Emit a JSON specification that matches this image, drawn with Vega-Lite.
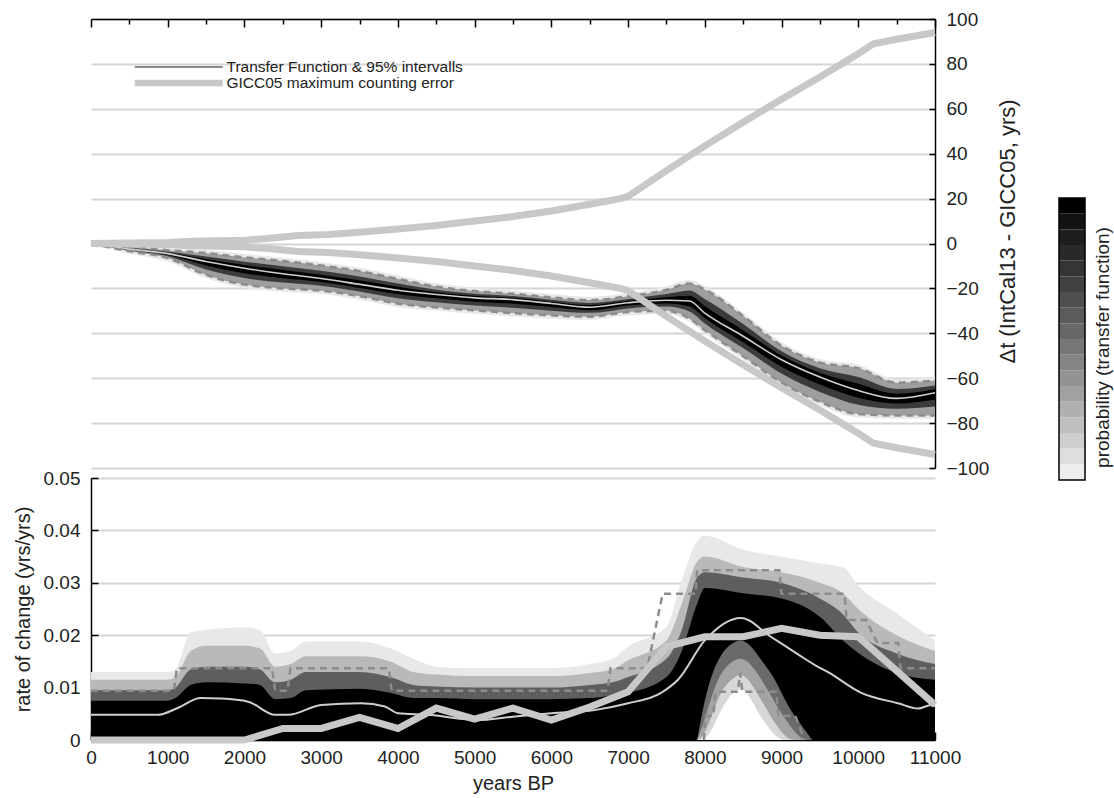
{
"$schema": "https://vega.github.io/schema/vega-lite/v6.json",
"padding": {"left": 13, "top": 10, "right": 4, "bottom": 4},
"background": "white",
"config": {
  "font": "Liberation Sans",
  "view": {"stroke": null},
  "axis": {"labelFont": "Liberation Sans", "titleFont": "Liberation Sans", "labelFontSize": 19, "titleFontSize": 20, "titleFontWeight": "normal", "labelColor": "#222", "titleColor": "#222", "domainColor": "#000", "domainWidth": 1.5, "tickColor": "#000", "tickWidth": 1.5}
},
"datasets": {
  "tf": [
    {"year":0,"mean":0,"hi":0,"lo":0,"chi":0,"clo":0,"mhi":0,"mlo":0,"hhi":0,"hlo":0},
    {"year":500,"mean":-2.5,"hi":-1.5,"lo":-3.5,"chi":-2.2,"clo":-2.8,"mhi":-1.9,"mlo":-3.1,"hhi":-0.5,"hlo":-4.5},
    {"year":1000,"mean":-4.5,"hi":-3,"lo":-6.5,"chi":-4.05,"clo":-5.1,"mhi":-3.6,"mlo":-5.7,"hhi":-1.5,"hlo":-8},
    {"year":1500,"mean":-8,"hi":-4.3,"lo":-14,"chi":-6.9,"clo":-9.8,"mhi":-5.8,"mlo":-11.6,"hhi":-2.8,"hlo":-15.5},
    {"year":2000,"mean":-11,"hi":-6.2,"lo":-18.3,"chi":-9.6,"clo":-13.2,"mhi":-8.1,"mlo":-15.4,"hhi":-4.7,"hlo":-19.8},
    {"year":2500,"mean":-13.5,"hi":-7.8,"lo":-20,"chi":-11.8,"clo":-15.5,"mhi":-10.1,"mlo":-17.4,"hhi":-6.3,"hlo":-21.5},
    {"year":3000,"mean":-15.6,"hi":-9.8,"lo":-21,"chi":-13.9,"clo":-17.2,"mhi":-12.1,"mlo":-18.8,"hhi":-8.3,"hlo":-22.5},
    {"year":3500,"mean":-18.2,"hi":-12.3,"lo":-23.5,"chi":-16.4,"clo":-19.8,"mhi":-14.7,"mlo":-21.4,"hhi":-10.8,"hlo":-25},
    {"year":4000,"mean":-20.8,"hi":-15.8,"lo":-26.8,"chi":-19.3,"clo":-22.6,"mhi":-17.8,"mlo":-24.4,"hhi":-14.3,"hlo":-28.3},
    {"year":4500,"mean":-22.7,"hi":-19.2,"lo":-28.5,"chi":-21.7,"clo":-24.4,"mhi":-20.6,"mlo":-26.2,"hhi":-17.7,"hlo":-30},
    {"year":5000,"mean":-24.2,"hi":-21.2,"lo":-29.8,"chi":-23.3,"clo":-25.9,"mhi":-22.4,"mlo":-27.6,"hhi":-19.7,"hlo":-31.3},
    {"year":5500,"mean":-25,"hi":-22.4,"lo":-31,"chi":-24.2,"clo":-26.8,"mhi":-23.4,"mlo":-28.6,"hhi":-20.9,"hlo":-32.5},
    {"year":6000,"mean":-26.7,"hi":-24,"lo":-32,"chi":-25.9,"clo":-28.3,"mhi":-25.1,"mlo":-29.9,"hhi":-22.5,"hlo":-33.5},
    {"year":6500,"mean":-28.4,"hi":-25.2,"lo":-32.6,"chi":-27.4,"clo":-29.7,"mhi":-26.5,"mlo":-30.9,"hhi":-23.7,"hlo":-34.1},
    {"year":7000,"mean":-26.4,"hi":-23.5,"lo":-30.5,"chi":-25.5,"clo":-27.6,"mhi":-24.7,"mlo":-28.9,"hhi":-22,"hlo":-32},
    {"year":7500,"mean":-25.3,"hi":-20.6,"lo":-30,"chi":-23.9,"clo":-26.7,"mhi":-22.5,"mlo":-28.1,"hhi":-19.1,"hlo":-31.5},
    {"year":7800,"mean":-25.6,"hi":-17.8,"lo":-33.5,"chi":-23.3,"clo":-28,"mhi":-20.9,"mlo":-30.3,"hhi":-16.3,"hlo":-35},
    {"year":8000,"mean":-31,"hi":-20.5,"lo":-38.6,"chi":-27.9,"clo":-33.3,"mhi":-24.7,"mlo":-35.6,"hhi":-19,"hlo":-40.1},
    {"year":8500,"mean":-41.3,"hi":-32.3,"lo":-50.2,"chi":-38.6,"clo":-44,"mhi":-35.9,"mlo":-46.6,"hhi":-30.8,"hlo":-51.7},
    {"year":9000,"mean":-51.8,"hi":-45.5,"lo":-62,"chi":-49.9,"clo":-54.9,"mhi":-48,"mlo":-57.9,"hhi":-44,"hlo":-63.5},
    {"year":9500,"mean":-59.5,"hi":-53,"lo":-70.5,"chi":-57.6,"clo":-62.8,"mhi":-55.6,"mlo":-66.1,"hhi":-51.5,"hlo":-72},
    {"year":10000,"mean":-65.5,"hi":-55.5,"lo":-76,"chi":-62.5,"clo":-68.7,"mhi":-59.5,"mlo":-71.8,"hhi":-54,"hlo":-77.5},
    {"year":10500,"mean":-69,"hi":-62,"lo":-76.6,"chi":-66.9,"clo":-71.3,"mhi":-64.8,"mlo":-73.6,"hhi":-60.5,"hlo":-78.1},
    {"year":11000,"mean":-66.5,"hi":-61,"lo":-76.6,"chi":-64.9,"clo":-69.5,"mhi":-63.2,"mlo":-72.6,"hhi":-59.5,"hlo":-78.1}
  ],
  "gicc": [
    {"year":0,"up":0,"dn":0},{"year":500,"up":0.2,"dn":-0.2},{"year":1000,"up":0.4,"dn":-0.4},{"year":1300,"up":1,"dn":-1},
    {"year":2000,"up":1.5,"dn":-1.5},{"year":2300,"up":2.2,"dn":-2.2},{"year":2700,"up":3.6,"dn":-3.6},{"year":3100,"up":4,"dn":-4},
    {"year":3500,"up":5,"dn":-5},{"year":4000,"up":6.5,"dn":-6.5},{"year":4500,"up":8,"dn":-8},{"year":5000,"up":10,"dn":-10},
    {"year":5500,"up":12,"dn":-12},{"year":6000,"up":14.5,"dn":-14.5},{"year":6500,"up":17.5,"dn":-17.5},{"year":6900,"up":20,"dn":-20},
    {"year":7000,"up":21,"dn":-21},{"year":7500,"up":32.5,"dn":-32.5},{"year":8000,"up":43.5,"dn":-43.5},{"year":8500,"up":54,"dn":-54},
    {"year":9000,"up":64.3,"dn":-64.3},{"year":9500,"up":74.2,"dn":-74.2},{"year":10000,"up":84.5,"dn":-84.5},{"year":10200,"up":89,"dn":-89},
    {"year":10500,"up":91,"dn":-91},{"year":11000,"up":94,"dn":-94}
  ],
  "rb": [
    {"year":0,"halo":0.013,"light":0.0115,"mid":0.0095,"core":0.0075},
    {"year":1000,"halo":0.013,"light":0.0115,"mid":0.0095,"core":0.0075},
    {"year":1100,"halo":0.0135,"light":0.012,"mid":0.01,"core":0.008},
    {"year":1300,"halo":0.0205,"light":0.017,"mid":0.0135,"core":0.0105},
    {"year":1500,"halo":0.021,"light":0.018,"mid":0.014,"core":0.011},
    {"year":2000,"halo":0.0215,"light":0.018,"mid":0.014,"core":0.0108},
    {"year":2200,"halo":0.021,"light":0.0175,"mid":0.0135,"core":0.0105},
    {"year":2400,"halo":0.0165,"light":0.014,"mid":0.011,"core":0.0078},
    {"year":2600,"halo":0.017,"light":0.0145,"mid":0.0115,"core":0.008},
    {"year":2800,"halo":0.0188,"light":0.016,"mid":0.013,"core":0.0095},
    {"year":3500,"halo":0.0188,"light":0.016,"mid":0.013,"core":0.0098},
    {"year":3900,"halo":0.0175,"light":0.015,"mid":0.012,"core":0.009},
    {"year":4200,"halo":0.0155,"light":0.013,"mid":0.0105,"core":0.008},
    {"year":4500,"halo":0.014,"light":0.0125,"mid":0.0102,"core":0.008},
    {"year":5000,"halo":0.0137,"light":0.0122,"mid":0.01,"core":0.0078},
    {"year":6000,"halo":0.0137,"light":0.0122,"mid":0.01,"core":0.0078},
    {"year":6500,"halo":0.0145,"light":0.0128,"mid":0.0105,"core":0.008},
    {"year":6800,"halo":0.0155,"light":0.0135,"mid":0.011,"core":0.0085},
    {"year":7000,"halo":0.0178,"light":0.0152,"mid":0.012,"core":0.009},
    {"year":7500,"halo":0.0216,"light":0.019,"mid":0.0155,"core":0.012},
    {"year":7700,"halo":0.0305,"light":0.026,"mid":0.021,"core":0.017},
    {"year":7900,"halo":0.038,"light":0.034,"mid":0.031,"core":0.026},
    {"year":8000,"halo":0.039,"light":0.035,"mid":0.032,"core":0.029},
    {"year":8500,"halo":0.0363,"light":0.033,"mid":0.031,"core":0.028},
    {"year":9000,"halo":0.035,"light":0.032,"mid":0.03,"core":0.027},
    {"year":9500,"halo":0.0337,"light":0.03,"mid":0.027,"core":0.0235},
    {"year":9800,"halo":0.033,"light":0.028,"mid":0.024,"core":0.019},
    {"year":10000,"halo":0.0295,"light":0.025,"mid":0.0205,"core":0.0166},
    {"year":10500,"halo":0.0242,"light":0.02,"mid":0.0165,"core":0.0128},
    {"year":11000,"halo":0.019,"light":0.017,"mid":0.0145,"core":0.0115}
  ],
  "hole": [
    {"year":7900,"h1":0,"h2":0,"h3":0,"h4":0},
    {"year":8000,"h1":0.008,"h2":0.004,"h3":0.001,"h4":0},
    {"year":8100,"h1":0.013,"h2":0.009,"h3":0.005,"h4":0.002},
    {"year":8200,"h1":0.016,"h2":0.0125,"h3":0.009,"h4":0.0055},
    {"year":8300,"h1":0.018,"h2":0.0145,"h3":0.011,"h4":0.008},
    {"year":8470,"h1":0.0195,"h2":0.016,"h3":0.013,"h4":0.0105},
    {"year":8600,"h1":0.018,"h2":0.0145,"h3":0.011,"h4":0.008},
    {"year":8700,"h1":0.016,"h2":0.0125,"h3":0.0085,"h4":0.005},
    {"year":8800,"h1":0.014,"h2":0.01,"h3":0.006,"h4":0.003},
    {"year":8900,"h1":0.012,"h2":0.0075,"h3":0.0035,"h4":0.001},
    {"year":9000,"h1":0.009,"h2":0.005,"h3":0.0015,"h4":0},
    {"year":9100,"h1":0.006,"h2":0.003,"h3":0,"h4":0},
    {"year":9250,"h1":0.003,"h2":0,"h3":0,"h4":0},
    {"year":9400,"h1":0,"h2":0,"h3":0,"h4":0}
  ],
  "up95": [
    {"year":0,"v":0.0094},{"year":1080,"v":0.0094},{"year":1120,"v":0.0137},{"year":2360,"v":0.0137},{"year":2400,"v":0.0094},
    {"year":2560,"v":0.0094},{"year":2600,"v":0.0137},{"year":3880,"v":0.0137},{"year":3920,"v":0.0094},{"year":6730,"v":0.0094},
    {"year":6770,"v":0.0137},{"year":7250,"v":0.0137},{"year":7450,"v":0.0279},{"year":7880,"v":0.0279},{"year":7900,"v":0.0324},
    {"year":8970,"v":0.0324},{"year":9000,"v":0.0279},{"year":9820,"v":0.0279},{"year":9850,"v":0.0229},{"year":10100,"v":0.0229},
    {"year":10250,"v":0.0185},{"year":10520,"v":0.0185},{"year":10550,"v":0.0137},{"year":11000,"v":0.0137}
  ],
  "lo95": [
    {"year":7990,"v":0},{"year":8000,"v":0.0046},{"year":8110,"v":0.0046},{"year":8140,"v":0.0092},{"year":8430,"v":0.0092},
    {"year":8460,"v":0.0128},{"year":8490,"v":0.0092},{"year":8930,"v":0.0092},{"year":8960,"v":0.0046},{"year":9180,"v":0.0046},
    {"year":9300,"v":0}
  ],
  "rmean": [
    {"year":0,"v":0.0048},{"year":870,"v":0.0048},{"year":1130,"v":0.0061},{"year":1430,"v":0.008},{"year":1700,"v":0.0079},
    {"year":2050,"v":0.0073},{"year":2400,"v":0.0048},{"year":2570,"v":0.0048},{"year":3000,"v":0.0067},{"year":3520,"v":0.007},
    {"year":3830,"v":0.0064},{"year":4000,"v":0.0051},{"year":4390,"v":0.0048},{"year":5040,"v":0.0038},{"year":5470,"v":0.0044},
    {"year":6000,"v":0.0051},{"year":6560,"v":0.0057},{"year":7000,"v":0.007},{"year":7430,"v":0.009},{"year":7650,"v":0.0115},
    {"year":8000,"v":0.019},{"year":8470,"v":0.0233},{"year":8860,"v":0.0197},{"year":9200,"v":0.0165},{"year":9470,"v":0.014},
    {"year":9600,"v":0.013},{"year":10040,"v":0.009},{"year":10520,"v":0.007},{"year":10780,"v":0.006},{"year":10950,"v":0.0067},
    {"year":11000,"v":0.0064}
  ],
  "grate": [
    {"year":0,"v":0},{"year":2000,"v":0},{"year":2500,"v":0.0022},{"year":3000,"v":0.0022},{"year":3500,"v":0.0043},
    {"year":4000,"v":0.0022},{"year":4500,"v":0.0061},{"year":5000,"v":0.004},{"year":5500,"v":0.0061},{"year":6000,"v":0.0038},
    {"year":6500,"v":0.0063},{"year":7000,"v":0.0092},{"year":7500,"v":0.0178},{"year":8000,"v":0.0197},{"year":8500,"v":0.0197},
    {"year":9000,"v":0.0213},{"year":9500,"v":0.02},{"year":10000,"v":0.0197},{"year":11000,"v":0.0067}
  ],
  "cbar": [
    {"lo":0,"hi":0.0556,"p":0.06},{"lo":0.0556,"hi":0.1111,"p":0.115},{"lo":0.1111,"hi":0.1667,"p":0.171},
    {"lo":0.1667,"hi":0.2222,"p":0.226},{"lo":0.2222,"hi":0.2778,"p":0.281},{"lo":0.2778,"hi":0.3333,"p":0.336},
    {"lo":0.3333,"hi":0.3889,"p":0.392},{"lo":0.3889,"hi":0.4444,"p":0.447},{"lo":0.4444,"hi":0.5,"p":0.502},
    {"lo":0.5,"hi":0.5556,"p":0.558},{"lo":0.5556,"hi":0.6111,"p":0.613},{"lo":0.6111,"hi":0.6667,"p":0.668},
    {"lo":0.6667,"hi":0.7222,"p":0.724},{"lo":0.7222,"hi":0.7778,"p":0.779},{"lo":0.7778,"hi":0.8333,"p":0.834},
    {"lo":0.8333,"hi":0.8889,"p":0.889},{"lo":0.8889,"hi":0.9444,"p":0.945},{"lo":0.9444,"hi":1,"p":1}
  ],
  "cbox": [{"lo":0,"hi":1}]
},
"spacing": 39,
"hconcat": [
 {
  "bounds": "flush",
  "spacing": 10,
  "vconcat": [
  {
    "width": 844, "height": 449,
    "encoding": {
      "x": {"field": "year", "type": "quantitative", "scale": {"domain": [0, 11000], "nice": false, "zero": false},
        "axis": {"orient": "top", "values": [0,500,1000,1500,2000,2500,3000,3500,4000,4500,5000,5500,6000,6500,7000,7500,8000,8500,9000,9500,10000,10500,11000],
          "labels": false, "title": null, "grid": false,
          "tickSize": {"condition": {"test": "datum.value % 1000 === 0", "value": -8}, "value": -5}}}
    },
    "layer": [
      {"data": {"name": "tf"}, "mark": {"type": "area", "interpolate": "monotone", "opacity": 1},
       "encoding": {
         "y": {"field": "hlo", "type": "quantitative", "scale": {"domain": [-100, 100], "nice": false, "zero": false},
           "axis": {"orient": "right", "values": [-100,-90,-80,-70,-60,-50,-40,-30,-20,-10,0,10,20,30,40,50,60,70,80,90,100],
             "labelExpr": "datum.value % 20 === 0 ? datum.label : ''", "labelFlush": false, "tickSize": -6, "labelPadding": 17,
             "grid": true,
             "gridColor": {"condition": {"test": "datum.value % 20 === 0", "value": "#d6d6d6"}, "value": "#9a9a9a"},
             "gridDash": {"condition": {"test": "datum.value % 20 === 0", "value": []}, "value": [1.5, 3]},
             "gridWidth": {"condition": {"test": "datum.value % 20 === 0", "value": 1.8}, "value": 1},
             "title": "Δt (IntCal13 - GICC05, yrs)", "titleFontSize": 22, "titleAngle": 270, "titleBaseline": "top", "titlePadding": 9,
             "titleY": 212, "titleAlign": "center"}},
         "y2": {"field": "hhi"},
         "fill": {"datum": 0.08, "scale": {"type": "linear", "domain": [0, 1], "range": ["#ffffff", "#000000"]}, "legend": null}
       }},
      {"data": {"name": "tf"}, "mark": {"type": "area", "interpolate": "monotone", "opacity": 1},
       "encoding": {"y": {"field": "lo", "type": "quantitative"}, "y2": {"field": "hi"}, "fill": {"datum": 0.35, "legend": null}}},
      {"data": {"name": "tf"}, "mark": {"type": "area", "interpolate": "monotone", "opacity": 1},
       "encoding": {"y": {"field": "mlo", "type": "quantitative"}, "y2": {"field": "mhi"}, "fill": {"datum": 0.75, "legend": null}}},
      {"data": {"name": "tf"}, "mark": {"type": "area", "interpolate": "monotone", "opacity": 1},
       "encoding": {"y": {"field": "clo", "type": "quantitative"}, "y2": {"field": "chi"}, "fill": {"datum": 1, "legend": null}}},
      {"data": {"name": "tf"}, "mark": {"type": "line", "interpolate": "monotone", "strokeWidth": 2.5, "strokeDash": [7, 5]},
       "encoding": {"y": {"field": "hi", "type": "quantitative"},
         "stroke": {"datum": "Transfer Function & 95% intervalls",
           "scale": {"domain": ["Transfer Function & 95% intervalls", "GICC05 maximum counting error"], "range": ["#8c8c8c", "#c8c8c8"]},
           "legend": {"orient": "none", "legendX": 39, "legendY": 40.5, "title": null, "symbolType": "M-14.67,0H14.67", "symbolSize": 36,
             "symbolStrokeWidth": 2, "symbolOffset": 41, "labelOffset": 40, "labelFontSize": 15.5, "labelColor": "#222",
             "labelFont": "Liberation Sans", "labelLimit": 500, "rowPadding": 0, "padding": 0, "clipHeight": 15,
             "encode": {"symbols": {"update": {"strokeWidth": {"signal": "datum.value === 'GICC05 maximum counting error' ? 6.5 : 2"}}}}}}}},
      {"data": {"name": "tf"}, "mark": {"type": "line", "interpolate": "monotone", "strokeWidth": 2.5, "strokeDash": [7, 5]},
       "encoding": {"y": {"field": "lo", "type": "quantitative"}, "stroke": {"datum": "Transfer Function & 95% intervalls"}}},
      {"data": {"name": "tf"}, "mark": {"type": "line", "interpolate": "monotone", "strokeWidth": 1.6},
       "encoding": {"y": {"field": "mean", "type": "quantitative"}, "stroke": {"value": "#cfcfcf"}}},
      {"data": {"name": "gicc"}, "mark": {"type": "line", "strokeWidth": 7},
       "encoding": {"y": {"field": "up", "type": "quantitative"}, "stroke": {"datum": "GICC05 maximum counting error"}}},
      {"data": {"name": "gicc"}, "mark": {"type": "line", "strokeWidth": 7},
       "encoding": {"y": {"field": "dn", "type": "quantitative"}, "stroke": {"datum": "GICC05 maximum counting error"}}}
    ]
  },
  {
    "width": 844, "height": 262,
    "encoding": {
      "x": {"field": "year", "type": "quantitative", "scale": {"domain": [0, 11000], "nice": false, "zero": false},
        "axis": {"orient": "bottom", "values": [0,500,1000,1500,2000,2500,3000,3500,4000,4500,5000,5500,6000,6500,7000,7500,8000,8500,9000,9500,10000,10500,11000],
          "format": "d", "labelExpr": "datum.value % 1000 === 0 ? datum.label : ''", "labelFlush": false,
          "tickSize": {"condition": {"test": "datum.value % 1000 === 0", "value": -8}, "value": -4},
          "labelPadding": 16, "title": "years BP", "titlePadding": 6, "grid": false}}
    },
    "layer": [
      {"data": {"name": "rb"}, "mark": {"type": "area", "interpolate": "monotone", "opacity": 1},
       "encoding": {
         "y": {"field": "halo", "type": "quantitative", "stack": null, "scale": {"domain": [0, 0.05], "nice": false, "zero": true},
           "axis": {"orient": "left", "values": [0,0.005,0.01,0.015,0.02,0.025,0.03,0.035,0.04,0.045,0.05], "format": "~g",
             "labelExpr": "round(datum.value*1000) % 10 === 0 ? datum.label : ''", "labelFlush": false,
             "tickSize": -7, "labelPadding": 18, "grid": true, "gridColor": "#d6d6d6", "gridWidth": 1.8,
             "gridOpacity": {"condition": {"test": "round(datum.value*1000) % 10 === 0", "value": 1}, "value": 0},
             "title": "rate of change (yrs/yrs)", "titlePadding": 10}},
         "fill": {"datum": 0.08, "legend": null}}},
      {"data": {"name": "rb"}, "mark": {"type": "area", "interpolate": "monotone", "opacity": 1},
       "encoding": {"y": {"field": "light", "type": "quantitative", "stack": null}, "fill": {"datum": 0.25, "legend": null}}},
      {"data": {"name": "rb"}, "mark": {"type": "area", "interpolate": "monotone", "opacity": 1},
       "encoding": {"y": {"field": "mid", "type": "quantitative", "stack": null}, "fill": {"datum": 0.6, "legend": null}}},
      {"data": {"name": "rb"}, "mark": {"type": "area", "interpolate": "monotone", "opacity": 1},
       "encoding": {"y": {"field": "core", "type": "quantitative", "stack": null}, "fill": {"datum": 1, "legend": null}}},
      {"data": {"name": "hole"}, "mark": {"type": "area", "interpolate": "basis", "opacity": 1},
       "encoding": {"y": {"field": "h1", "type": "quantitative", "stack": null}, "fill": {"datum": 0.55, "legend": null}}},
      {"data": {"name": "hole"}, "mark": {"type": "area", "interpolate": "basis", "opacity": 1},
       "encoding": {"y": {"field": "h2", "type": "quantitative", "stack": null}, "fill": {"datum": 0.33, "legend": null}}},
      {"data": {"name": "hole"}, "mark": {"type": "area", "interpolate": "basis", "opacity": 1},
       "encoding": {"y": {"field": "h3", "type": "quantitative", "stack": null}, "fill": {"datum": 0.14, "legend": null}}},
      {"data": {"name": "hole"}, "mark": {"type": "area", "interpolate": "basis", "opacity": 1},
       "encoding": {"y": {"field": "h4", "type": "quantitative", "stack": null}, "fill": {"datum": 0, "legend": null}}},
      {"data": {"name": "up95"}, "mark": {"type": "line", "strokeWidth": 2.5, "strokeDash": [7, 5]},
       "encoding": {"y": {"field": "v", "type": "quantitative"}, "stroke": {"datum": "Transfer Function & 95% intervalls"}}},
      {"data": {"name": "lo95"}, "mark": {"type": "line", "strokeWidth": 2.5, "strokeDash": [7, 5]},
       "encoding": {"y": {"field": "v", "type": "quantitative"}, "stroke": {"datum": "Transfer Function & 95% intervalls"}}},
      {"data": {"name": "rmean"}, "mark": {"type": "line", "interpolate": "monotone", "strokeWidth": 2},
       "encoding": {"y": {"field": "v", "type": "quantitative"}, "stroke": {"value": "#cfcfcf"}}},
      {"data": {"name": "grate"}, "mark": {"type": "line", "strokeWidth": 7},
       "encoding": {"y": {"field": "v", "type": "quantitative"}, "stroke": {"datum": "GICC05 maximum counting error"}}}
    ]
  }
  ]
 },
 {
  "width": 26, "height": 461,
  "layer": [
    {"data": {"name": "cbar"}, "mark": {"type": "rect"},
     "encoding": {
       "y": {"field": "lo", "type": "quantitative", "scale": {"domain": [0, 1.6348], "nice": false, "zero": false},
         "axis": {"orient": "right", "values": [0.143, 0.286, 0.429, 0.571, 0.714, 0.857], "labels": false, "domain": false,
           "tickSize": -4, "tickWidth": 1.2, "grid": false,
           "title": "probability (transfer function)", "titleFontSize": 19, "titleAngle": 270, "titleBaseline": "top",
           "titlePadding": 8, "titleY": 328, "titleAlign": "center"}},
       "y2": {"field": "hi"},
       "color": {"field": "p", "type": "quantitative", "scale": {"domain": [0, 1], "range": ["#ffffff", "#000000"]}, "legend": null}
     }},
    {"data": {"name": "cbox"}, "mark": {"type": "rect", "fillOpacity": 0, "stroke": "#000", "strokeWidth": 1.5},
     "encoding": {"y": {"field": "lo", "type": "quantitative"}, "y2": {"field": "hi"}}}
  ]
 }
]
}
